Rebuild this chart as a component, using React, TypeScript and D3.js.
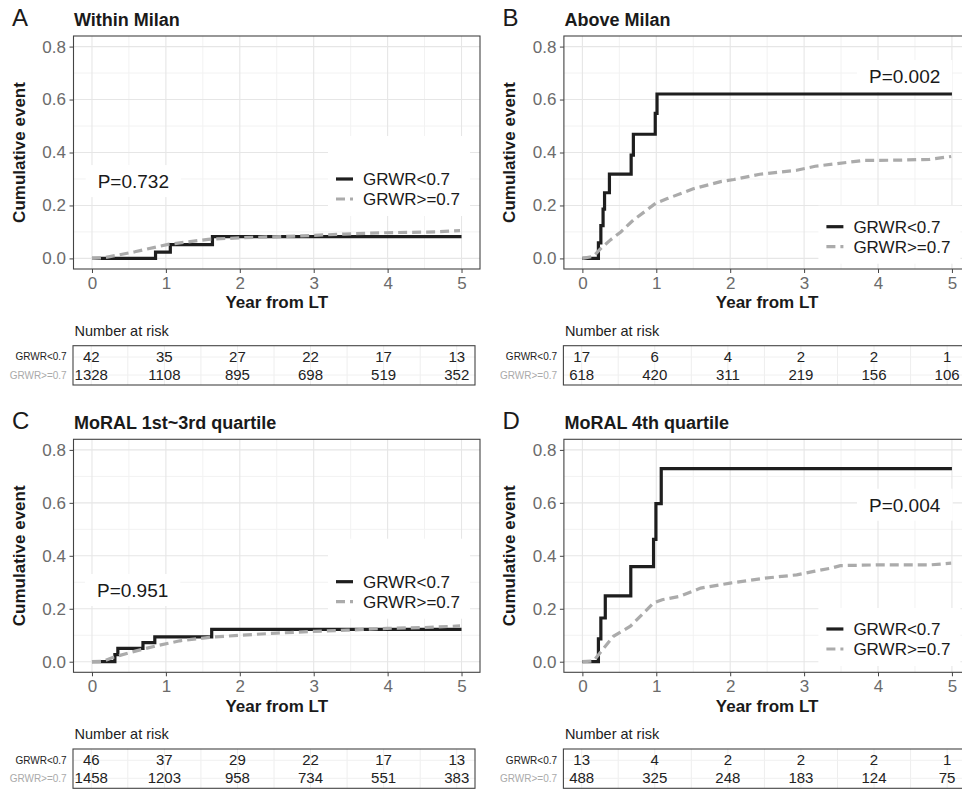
import React, { useEffect, useRef } from "react";
import * as d3 from "d3";

const yearTicks = [0, 1, 2, 3, 4, 5];
const eventTicks = [0, 0.2, 0.4, 0.6, 0.8];
const groupLabels = ["GRWR<0.7", "GRWR>=0.7"];

// A - within Milan
const withinLowTime = [0, 0.86, 1.06, 1.63, 5];
const withinLowEvent = [0, 0.024, 0.052, 0.082, 0.082];
const withinHighTime = [0, 0.17, 0.58, 1.03, 1.57, 2.02, 2.83, 3.42, 3.97, 4.65, 4.98];
const withinHighEvent = [0, 0.003, 0.025, 0.053, 0.072, 0.078, 0.085, 0.092, 0.097, 0.1, 0.105];
const withinRiskLow = [42, 35, 27, 22, 17, 13];
const withinRiskHigh = [1328, 1108, 895, 698, 519, 352];

// B - above Milan
const aboveLowTime = [0, 0.217, 0.25, 0.28, 0.3, 0.366, 0.66, 0.69, 0.986, 1.01, 5];
const aboveLowEvent = [0, 0.059, 0.124, 0.186, 0.248, 0.318, 0.39, 0.469, 0.548, 0.621, 0.621];
const aboveHighTime = [0, 0.15, 0.24, 0.38, 0.52, 0.69, 0.85, 0.99, 1.15, 1.5, 1.87, 2.05, 2.4, 2.9, 3.15, 3.45, 3.8, 4.25, 4.7, 4.99];
const aboveHighEvent = [0, 0.008, 0.035, 0.07, 0.1, 0.145, 0.178, 0.208, 0.226, 0.263, 0.29, 0.298, 0.318, 0.333, 0.348, 0.358, 0.37, 0.371, 0.374, 0.385];
const aboveRiskLow = [17, 6, 4, 2, 2, 1];
const aboveRiskHigh = [618, 420, 311, 219, 156, 106];

// C - MoRAL 1st~3rd quartile
const q13LowTime = [0, 0.31, 0.35, 0.69, 0.85, 1.62, 5];
const q13LowEvent = [0, 0.027, 0.05, 0.072, 0.094, 0.122, 0.122];
const q13HighTime = [0, 0.15, 0.29, 0.6, 0.87, 1.19, 1.59, 2.0, 2.5, 2.95, 3.45, 3.99, 4.49, 4.98];
const q13HighEvent = [0, 0.002, 0.017, 0.041, 0.06, 0.079, 0.092, 0.1, 0.108, 0.114, 0.119, 0.126, 0.129, 0.135];
const q13RiskLow = [46, 37, 29, 22, 17, 13];
const q13RiskHigh = [1458, 1203, 958, 734, 551, 383];

// D - MoRAL 4th quartile
const q4LowTime = [0, 0.217, 0.25, 0.31, 0.655, 0.963, 0.995, 1.067, 5];
const q4LowEvent = [0, 0.086, 0.165, 0.249, 0.359, 0.462, 0.597, 0.729, 0.729];
const q4HighTime = [0, 0.15, 0.24, 0.42, 0.65, 0.963, 1.08, 1.32, 1.6, 2.0, 2.45, 2.9, 3.13, 3.36, 3.49, 4.04, 4.72, 4.99];
const q4HighEvent = [0, 0.003, 0.034, 0.096, 0.134, 0.222, 0.234, 0.247, 0.278, 0.297, 0.315, 0.328, 0.341, 0.353, 0.363, 0.366, 0.366, 0.372];
const q4RiskLow = [13, 4, 2, 2, 2, 1];
const q4RiskHigh = [488, 325, 248, 183, 124, 75];

const panelLetters = ["A", "B", "C", "D"];
const panelTitles = ["Within Milan", "Above Milan", "MoRAL 1st~3rd quartile", "MoRAL 4th quartile"];
const pLabels = ["P=0.732", "P=0.002", "P=0.951", "P=0.004"];
const pTime = [0.56, 4.36, 0.55, 4.36];
const pEvent = [0.292, 0.689, 0.271, 0.593];

const FONT = "'Liberation Sans', Arial, Helvetica, sans-serif";
const NARROW = "'Liberation Sans Narrow', 'Arial Narrow', 'Liberation Sans', Arial, sans-serif";
const PW = 406.5, PH = 233;

const panels = [
    { left: 73.5, top: 36, legendRow: 143, legendBoxTop: 43,
      low: [withinLowTime, withinLowEvent], high: [withinHighTime, withinHighEvent], risk: [withinRiskLow, withinRiskHigh] },
    { left: 563.9, top: 36, legendRow: 190.7, legendBoxTop: 21,
      low: [aboveLowTime, aboveLowEvent], high: [aboveHighTime, aboveHighEvent], risk: [aboveRiskLow, aboveRiskHigh] },
    { left: 73.5, top: 439.3, legendRow: 142.4, legendBoxTop: 43,
      low: [q13LowTime, q13LowEvent], high: [q13HighTime, q13HighEvent], risk: [q13RiskLow, q13RiskHigh] },
    { left: 563.9, top: 439.3, legendRow: 189.7, legendBoxTop: 21,
      low: [q4LowTime, q4LowEvent], high: [q4HighTime, q4HighEvent], risk: [q4RiskLow, q4RiskHigh] },
];

const drawPanel = (svg, p, i) => {
    const g = svg.append("g");
    const x = d3.scaleLinear().domain([-0.25, 5.25]).range([p.left, p.left + PW]);
    const y = d3.scaleLinear().domain([-0.04, 0.84]).range([p.top + PH, p.top]);
    const bottom = p.top + PH;

    // grid
    const minorX = d3.range(0.5, 5, 1);
    const minorY = d3.range(0.1, 0.8, 0.2);
    g.selectAll(".mx").data(minorX).enter().append("line")
        .attr("x1", d => x(d)).attr("x2", d => x(d)).attr("y1", p.top).attr("y2", bottom)
        .attr("stroke", "#f2f2f2").attr("stroke-width", 1);
    g.selectAll(".my").data(minorY).enter().append("line")
        .attr("y1", d => y(d)).attr("y2", d => y(d)).attr("x1", p.left).attr("x2", p.left + PW)
        .attr("stroke", "#f2f2f2").attr("stroke-width", 1);
    g.selectAll(".gx").data(yearTicks).enter().append("line")
        .attr("x1", d => x(d)).attr("x2", d => x(d)).attr("y1", p.top).attr("y2", bottom)
        .attr("stroke", "#e6e6e6").attr("stroke-width", 1.1);
    g.selectAll(".gy").data(eventTicks).enter().append("line")
        .attr("y1", d => y(d)).attr("y2", d => y(d)).attr("x1", p.left).attr("x2", p.left + PW)
        .attr("stroke", "#e6e6e6").attr("stroke-width", 1.1);

    // legend background
    const lx = p.left + 254.5;
    const ly = p.top + p.legendRow;
    g.append("rect").attr("x", lx).attr("y", ly - p.legendBoxTop)
        .attr("width", 142).attr("height", p.legendBoxTop + 37).attr("fill", "white");

    // p-value label
    const pt = g.append("text").attr("x", x(pTime[i])).attr("y", y(pEvent[i]) + 7)
        .attr("text-anchor", "middle").attr("font-family", FONT).attr("font-size", 19)
        .attr("fill", "#1a1a1a").text(pLabels[i]);
    const bb = pt.node().getBBox();
    g.insert("rect", () => pt.node()).attr("x", bb.x - 12).attr("y", y(pEvent[i]) - 16)
        .attr("width", bb.width + 24).attr("height", 32).attr("fill", "white");

    // curves
    const lowPts = p.low[0].map((t, k) => [t, p.low[1][k]]);
    const highPts = p.high[0].map((t, k) => [t, p.high[1][k]]);
    const stepLine = d3.line().x(d => x(d[0])).y(d => y(d[1])).curve(d3.curveStepAfter);
    const smoothLine = d3.line().x(d => x(d[0])).y(d => y(d[1]));
    g.append("path").attr("d", stepLine(lowPts)).attr("fill", "none")
        .attr("stroke", "#1e1e1e").attr("stroke-width", 3.2);
    g.append("path").attr("d", smoothLine(highPts)).attr("fill", "none")
        .attr("stroke", "#ababab").attr("stroke-width", 3.2).attr("stroke-dasharray", "9,5");

    // panel border
    g.append("rect").attr("x", p.left).attr("y", p.top).attr("width", PW).attr("height", PH)
        .attr("fill", "none").attr("stroke", "#444").attr("stroke-width", 1.1);

    // axes
    const ya = g.append("g").attr("transform", `translate(${p.left},0)`)
        .call(d3.axisLeft(y).tickValues(eventTicks).tickFormat(d3.format(".1f")).tickSize(4).tickPadding(3.5));
    const xa = g.append("g").attr("transform", `translate(0,${bottom})`)
        .call(d3.axisBottom(x).tickValues(yearTicks).tickFormat(d3.format("d")).tickSize(4).tickPadding(3.7));
    [ya, xa].forEach(a => {
        a.select(".domain").remove();
        a.selectAll("line").attr("stroke", "#444");
        a.selectAll("text").attr("font-family", FONT).attr("font-size", 17).attr("fill", "#6b6b6b");
    });

    g.append("text").attr("x", p.left + PW / 2).attr("y", bottom + 39.3).attr("text-anchor", "middle")
        .attr("font-family", FONT).attr("font-size", 17).attr("font-weight", "bold").attr("fill", "#1a1a1a")
        .text("Year from LT");
    g.append("text").attr("transform", `translate(${p.left - 48.5},${p.top + PH / 2}) rotate(-90)`)
        .attr("text-anchor", "middle").attr("font-family", FONT).attr("font-size", 17)
        .attr("font-weight", "bold").attr("fill", "#1a1a1a").text("Cumulative event");

    // titles
    g.append("text").attr("x", p.left - 61.5).attr("y", p.top - 10).attr("font-family", FONT)
        .attr("font-size", 24).attr("fill", "#1a1a1a").text(panelLetters[i]);
    g.append("text").attr("x", p.left + 0.5).attr("y", p.top - 10).attr("font-family", FONT)
        .attr("font-size", 18).attr("font-weight", "bold").attr("fill", "#1a1a1a").text(panelTitles[i]);

    // legend
    groupLabels.forEach((lab, k) => {
        const yy = ly + k * 20;
        g.append("line").attr("x1", lx + 8).attr("x2", lx + 25).attr("y1", yy).attr("y2", yy)
            .attr("stroke", k === 0 ? "#1e1e1e" : "#ababab").attr("stroke-width", 3.2)
            .attr("stroke-dasharray", k === 0 ? null : "9,5");
        g.append("text").attr("x", lx + 35).attr("y", yy + 6).attr("font-family", FONT)
            .attr("font-size", 17).attr("fill", "#1a1a1a").text(lab);
    });

    // number at risk table
    const tx = d3.scaleLinear().domain([-0.25, 5.25]).range([p.left - 0.5, p.left - 0.5 + 402]);
    const boxTop = bottom + 76.7, boxH = 39.3;
    g.append("text").attr("x", p.left + 1).attr("y", bottom + 66.7).attr("font-family", FONT)
        .attr("font-size", 14.5).attr("fill", "#222").text("Number at risk");
    g.selectAll(".tg").data(d3.range(0, 5.01, 0.5)).enter().append("line")
        .attr("x1", d => tx(d)).attr("x2", d => tx(d)).attr("y1", boxTop).attr("y2", boxTop + boxH)
        .attr("stroke", "#eeeeee").attr("stroke-width", 1);
    [bottom + 88, bottom + 106].forEach(yy => {
        g.append("line").attr("x1", p.left).attr("x2", p.left + 402).attr("y1", yy).attr("y2", yy)
            .attr("stroke", "#f0f0f0").attr("stroke-width", 1);
    });
    g.append("rect").attr("x", p.left - 0.5).attr("y", boxTop).attr("width", 402).attr("height", boxH)
        .attr("fill", "none").attr("stroke", "#444").attr("stroke-width", 1.1);
    const rowBase = [bottom + 92.7, bottom + 111];
    p.risk.forEach((row, k) => {
        g.append("text").attr("x", p.left - 6.8).attr("y", rowBase[k] - 1.5).attr("text-anchor", "end")
            .attr("font-family", FONT).attr("font-size", 10)
            .attr("fill", k === 0 ? "#222" : "#aaaaaa").text(groupLabels[k]);
        g.selectAll(".n" + k).data(row).enter().append("text")
            .attr("x", (d, j) => tx(yearTicks[j])).attr("y", rowBase[k]).attr("text-anchor", "middle")
            .attr("font-family", NARROW).attr("font-size", 15).attr("fill", "#222").text(d => d);
    });
};

const App = () => {
    const svgRef = useRef();

    useEffect(() => {
        const svg = d3.select(svgRef.current);
        svg.selectAll("*").remove();
        svg.append("rect").attr("width", 962).attr("height", 789).attr("fill", "white");
        panels.forEach((p, i) => drawPanel(svg, p, i));
    }, []);

    return (
        <svg ref={svgRef} width={962} height={789}
            style={{ position: "absolute", left: 0, top: 0, display: "block" }}></svg>
    );
};

export default App;
